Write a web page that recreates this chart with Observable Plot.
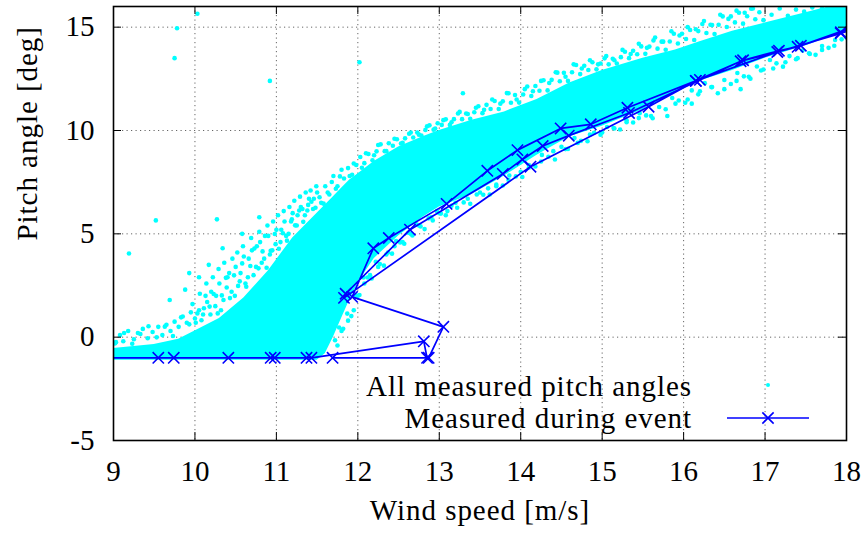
<!DOCTYPE html>
<html>
<head>
<meta charset="utf-8">
<script src="https://cdn.jsdelivr.net/npm/d3@7"></script>
<script src="https://cdn.jsdelivr.net/npm/@observablehq/plot@0.6"></script>
<style>
  html, body { margin: 0; padding: 0; background: white; }
  #wrap { position: relative; width: 861px; height: 538px; }
  .legtxt { position: absolute; left: 0; width: 692px; text-align: right; line-height: 32px; color: black; white-space: nowrap; }
  #legsym { position: absolute; left: 722px; top: 369px; }
</style>
</head>
<body>
<div id="wrap">
  <div class="legtxt" id="leg1" style="top:370px"></div>
  <div class="legtxt" id="leg2" style="top:402px"></div>
  <svg id="legsym" width="92" height="64"></svg>
</div>
<script>
// ---- axis ticks ----
const xTicks = [9, 10, 11, 12, 13, 14, 15, 16, 17, 18];
const yTicks = [-5, 0, 5, 10, 15];
const xGrid = [10, 11, 12, 13, 14, 15, 16, 17];
const yGrid = [0, 5, 10, 15];

// ---- dense core of the measured cloud (wind speed, lower pitch, upper pitch) ----
const coreWind = [9.0, 9.5, 9.8, 10.0, 10.3, 10.6, 10.9, 11.2, 11.5, 11.6, 11.7, 11.8, 11.9, 12.0, 12.1, 12.2, 12.5, 12.8, 13.0, 13.4, 13.8, 14.2, 14.6, 15.0, 15.5, 15.9, 16.2, 16.6, 17.0, 17.5, 18.0];
const coreLow  = [-1.12, -1.12, -1.12, -1.12, -1.12, -1.12, -1.12, -1.12, -1.12, -0.8, 0.0, 0.9, 1.8, 2.6, 3.2, 3.8, 4.9, 5.8, 6.3, 6.9, 7.8, 8.8, 9.7, 10.2, 11.0, 11.8, 12.4, 12.9, 13.5, 14.1, 14.8];
const coreHigh = [-0.55, -0.35, -0.1, 0.3, 0.9, 1.9, 3.2, 4.8, 6.0, 6.4, 6.8, 7.2, 7.6, 7.9, 8.2, 8.5, 9.2, 9.7, 10.0, 10.5, 10.9, 11.5, 12.3, 12.9, 13.5, 13.9, 14.3, 14.8, 15.2, 15.7, 16.2];

// ---- scattered measured points above the dense core ----
const upperPts = [
  [9.02,-0.3],[9.08,0.1],[9.12,-0.2],[9.18,0.3],[9.25,-0.1],[9.3,0.2],[9.36,0.4],[9.42,-0.05],[9.48,0.25],[9.55,0.5],
  [9.6,0.1],[9.65,0.6],[9.7,0.3],[9.75,0.75],[9.8,0.5],[9.85,1.0],[9.9,0.7],[9.95,1.2],[10.0,0.9],[10.05,1.3],
  [10.1,1.1],[10.15,1.7],[10.2,2.2],[10.25,1.5],[10.3,2.6],[10.35,1.8],[10.4,2.9],[10.45,2.2],[10.5,3.4],[10.55,2.7],
  [10.6,3.9],[10.65,2.9],[10.7,4.2],[10.75,3.4],[10.8,4.6],[10.85,3.8],[10.9,4.9],[10.95,4.2],[11.0,5.2],[11.05,4.6],
  [11.1,5.6],[11.15,5.0],[11.2,6.0],[11.25,5.4],[11.3,6.3],[11.35,5.9],[11.4,6.7],[11.45,6.2],[11.5,7.0],[11.55,6.5],
  [11.6,7.3],[11.65,6.9],[11.7,7.8],[11.75,7.3],[11.8,8.1],[11.9,7.8],[11.95,8.4],[12.05,8.2],[12.1,8.9],[12.2,8.8],
  [12.25,9.3],[12.35,9.0],[12.45,9.6],[12.55,9.4],[12.65,9.9],[12.75,9.8],[12.85,10.2],[12.95,10.1],[13.05,10.5],[13.15,10.4],
  [13.25,10.9],[13.35,10.8],[13.45,11.1],[13.55,11.0],[13.65,11.5],[13.75,11.3],[13.85,11.8],[13.95,11.5],[14.05,12.0],[14.15,11.9],
  [14.25,12.4],[14.35,12.3],[14.45,12.8],[14.55,12.6],[14.65,13.2],[14.75,13.0],[14.85,13.4],[14.95,13.2],[15.05,13.6],[15.15,13.4],
  [15.25,13.9],[15.35,13.7],[15.45,14.2],[15.55,14.0],[15.65,14.5],[15.75,14.3],[15.85,14.8],[15.95,14.6],[16.05,15.0],[16.15,14.9],
  [16.25,15.3],[16.35,15.1],[16.45,15.6],[16.55,15.4],[16.65,15.8],[16.75,15.7],[16.85,15.9]
];
const upperPts2 = [
  [9.03,-0.24],[9.13,0.2],[9.23,-0.32],[9.33,0.15],[9.43,0.53],[9.53,-0.01],[9.63,0.51],[9.73,0.06],[9.83,0.96],[9.93,0.62],
  [10.03,1.15],[10.08,0.82],[10.13,2.0],[10.18,1.48],[10.23,2.09],[10.28,1.15],[10.33,2.02],[10.38,2.87],[10.43,1.89],[10.48,2.99],
  [10.53,2.48],[10.58,3.57],[10.63,2.44],[10.68,3.44],[10.73,4.29],[10.78,3.33],[10.83,4.15],[10.88,3.36],[10.93,4.18],[10.98,4.99],
  [11.03,4.28],[11.08,5.03],[11.13,4.67],[11.18,5.6],[11.23,5.41],[11.28,6.13],[11.33,5.58],[11.38,6.13],[11.43,6.55],[11.48,6.26],
  [11.53,6.77],[11.58,6.46],[11.63,7.0],[11.68,7.51],[11.73,7.18],[11.78,7.78],[11.83,7.68],[11.88,8.18],[11.93,7.86],[11.98,8.33],
  [12.03,8.72],[12.08,8.42],[12.13,8.86],[12.18,8.56],[12.23,8.99],[12.28,9.33],[12.33,9.0],[12.38,9.38],[12.43,9.26],[12.48,9.58],
  [12.53,9.37],[12.58,9.62],[12.63,9.84],[12.68,9.66],[12.73,9.9],[12.78,9.76],[12.83,10.03],[12.88,10.25],[12.93,10.04],[12.98,10.35],
  [13.03,10.27],[13.08,10.54],[13.13,10.27],[13.18,10.55],[13.23,10.82],[13.28,10.55],[13.33,10.82],[13.38,10.57],[13.43,10.88],[13.48,11.17],
  [13.53,10.84],[13.58,11.24],[13.63,11.04],[13.68,11.43],[13.73,11.04],[13.78,11.41],[13.83,11.81],[13.88,11.34],[13.93,11.72],[13.98,11.35],
  [14.03,11.74],[14.08,12.13],[14.13,11.67],[14.18,12.15],[14.23,11.92],[14.28,12.43],[14.33,11.94],[14.38,12.45],[14.43,12.82],[14.48,12.38],
  [14.53,12.79],[14.58,12.4],[14.63,12.82],[14.68,13.17],[14.73,12.73],[14.78,13.13],[14.83,12.93],[14.88,13.3],[14.93,12.96],[14.98,13.24],
  [15.03,13.49],[15.08,13.2],[15.13,13.47],[15.18,13.24],[15.23,13.55],[15.28,13.81],[15.33,13.5],[15.38,13.86],[15.43,13.69],[15.48,14.07],
  [15.53,13.71],[15.58,14.06],[15.63,14.36],[15.68,13.96],[15.73,14.3],[15.78,13.91],[15.83,14.31],[15.88,14.68],[15.93,14.21],[15.98,14.68],
  [16.03,14.43],[16.08,14.86],[16.13,14.38],[16.18,14.81],[16.23,15.15],[16.28,14.72],[16.33,15.12],[16.38,14.67],[16.43,15.12],[16.48,15.52],
  [16.53,15.01],[16.58,15.52],[16.63,15.23],[16.68,15.7],[16.73,15.17],[16.78,15.53],[16.83,15.89],[16.88,15.38],[16.93,15.72],[16.98,15.34],
  [17.08,15.6],[17.18,15.9],[17.28,15.55],[17.38,15.85],[17.48,15.75],[17.58,15.95],[17.7,15.9],[17.85,15.95]
];
// sparse upper part of the rising section (10 – 11.5 m/s)
const upperPts3 = [
  [9.97,1.6],[10.01,0.7],[10.06,2.1],[10.11,1.4],[10.14,2.6],[10.19,1.1],[10.22,2.9],[10.26,2.0],[10.29,3.3],[10.32,1.3],
  [10.36,3.6],[10.39,2.4],[10.42,3.1],[10.46,3.8],[10.49,2.0],[10.52,4.1],[10.56,3.1],[10.59,4.4],[10.62,2.6],[10.66,3.8],
  [10.69,4.8],[10.72,3.0],[10.76,4.4],[10.79,5.1],[10.82,3.6],[10.86,4.9],[10.89,5.4],[10.92,4.0],[10.96,5.6],[10.99,4.5],
  [11.02,5.9],[11.06,5.2],[11.09,6.1],[11.12,4.9],[11.16,6.3],[11.19,5.7],[11.22,6.6],[11.26,5.9],[11.29,6.8],[11.32,6.2],
  [11.36,7.0],[11.39,6.4],[11.42,7.1],[11.46,6.7],[11.49,7.3],
  [9.88,2.3],[10.05,2.9],[10.17,3.5],[10.34,4.3],[10.58,5.0]
];

// ---- scattered measured points below the dense core ----
const lowerPts = [
  [11.75,-0.4],[11.8,0.3],[11.88,0.8],[11.95,1.3],[12.0,2.0],[12.08,2.6],[12.15,3.0],[12.25,3.4],[12.35,4.0],[12.45,4.4],
  [12.55,4.6],[12.65,5.0],[12.75,5.4],[12.9,5.8],[13.0,6.0],[13.1,6.1],[13.2,6.5],[13.35,6.7],[13.5,7.0],[13.6,7.2],
  [13.7,7.3],[13.85,7.6],[14.0,8.0],[14.1,8.2],[14.25,8.5],[14.4,9.0],[14.55,9.1],[14.7,9.4],[14.85,9.8],[15.0,9.9],
  [15.15,10.1],[15.3,10.4],[15.45,10.6],[15.6,10.7],[15.8,10.7],[15.9,11.3],[16.05,11.5],[16.1,11.3],[16.2,11.9],[16.35,12.1],
  [16.5,12.0],[16.65,12.4],[16.7,12.0],[16.8,12.6],[16.95,12.9],[17.1,13.0],[17.25,13.3],[17.4,13.5],[17.55,13.7],[17.7,13.9],
  [17.85,14.1],[18.0,14.5]
];
const lowerPts2 = [
  [11.72,-0.15],[11.77,0.47],[11.82,0.41],[11.87,1.14],[11.92,1.02],[11.97,2.02],[12.02,2.04],[12.07,2.89],[12.12,2.89],[12.17,2.84],
  [12.22,3.65],[12.27,3.54],[12.32,3.46],[12.37,4.1],[12.42,4.04],[12.47,4.65],[12.52,4.58],[12.57,4.52],[12.62,5.05],[12.67,4.92],
  [12.72,5.46],[12.77,5.36],[12.82,5.23],[12.87,5.75],[12.92,5.65],[12.97,6.1],[13.02,5.98],[13.08,5.9],[13.15,6.36],[13.22,6.26],
  [13.3,6.52],[13.38,6.45],[13.46,6.9],[13.54,6.89],[13.62,6.9],[13.7,7.38],[13.78,7.34],[13.86,7.82],[13.94,7.78],[14.02,7.75],
  [14.1,8.33],[14.18,8.26],[14.26,8.82],[14.34,8.73],[14.42,8.6],[14.5,9.21],[14.58,9.11],[14.66,9.64],[14.74,9.5],[14.82,9.48],
  [14.9,9.89],[14.98,9.8],[15.06,10.17],[15.14,10.12],[15.22,10.05],[15.3,10.49],[15.38,10.39],[15.46,10.84],[15.54,10.73],[15.62,10.59],
  [15.7,11.14],[15.78,11.03],[15.86,11.57],[15.94,11.45],[16.02,11.34],[16.1,11.94],[16.18,11.75],[16.26,12.29],[16.34,12.1],[16.42,11.8],
  [16.5,12.44],[16.58,12.25],[16.66,12.78],[16.74,12.62],[16.82,12.51],[16.9,13.1],[16.98,12.95],[17.06,13.41],[17.14,13.25],[17.22,13.09],
  [17.3,13.6],[17.38,13.45],[17.46,13.87],[17.54,13.74],[17.62,13.66],[17.7,14.09],[17.78,14.0],[17.86,14.38],[17.94,14.41]
];

// ---- isolated outliers ----
const outlierPts = [
  [10.03,15.65],[9.78,14.95],[9.75,13.5],[10.92,12.4],[12.02,13.3],[13.29,11.8],
  [9.52,5.65],[9.19,4.05],[10.27,5.7],[10.79,5.8],[9.93,3.1],[9.69,1.8]
];

// ---- pitch angle measured during the event (time order) ----
const eventWind  = [8.8, 9.55, 9.74, 10.41, 10.93, 10.98, 11.37, 11.43, 12.81, 12.85, 11.69, 12.87, 13.05, 11.93, 12.19, 12.38, 13.09, 13.59, 13.96, 14.49, 14.86, 15.31, 16.15, 16.73, 17.17, 17.44, 17.93, 18.3, 17.4, 16.7, 16.2, 15.33, 14.59, 14.27, 14.02, 13.78, 12.64, 11.85, 11.83, 14.12, 15.57, 16.15, 17.15, 17.93, 18.3];
const eventPitch = [-1, -1, -1, -1, -1, -1, -1, -1, -0.2, -1, -1, -1, 0.5, 1.95, 4.3, 4.8, 6.45, 8.05, 9.05, 10.1, 10.3, 11.1, 12.4, 13.4, 13.86, 14.1, 14.75, 15.3, 14.05, 13.35, 12.45, 10.85, 9.75, 9.25, 8.6, 7.9, 5.2, 2.1, 1.9, 8.25, 11.15, 12.4, 13.8, 14.7, 15.2];

const labels = { x: "Wind speed [m/s]", y: "Pitch angle [deg]",
  s1: "All measured pitch angles", s2: "Measured during event" };

const cyan = "#00ffff";
const blue = "#0000ff";

// ---- font: serif, sized so that the legend text spans ~326 px like the reference ----
const FAMILY = "'Liberation Serif', 'DejaVu Serif', 'Times New Roman', serif";
const ctx = document.createElement("canvas").getContext("2d");
ctx.font = `100px ${FAMILY}`;
const w100 = ctx.measureText(labels.s1).width;
const FS = Math.min(29, Math.round(100 * 326 / w100 * 10) / 10);
const LS = Math.max(0, (326 - w100 * FS / 100) / labels.s1.length);

const core = coreWind.map((w, i) => ({ w, lo: coreLow[i], hi: coreHigh[i] }));
const pts = [...upperPts, ...upperPts2, ...upperPts3, ...lowerPts, ...lowerPts2, ...outlierPts].map(([w, p]) => ({ w, p }));
const event = eventWind.map((w, i) => ({ w, p: eventPitch[i] }));

const W = 861, H = 538, mL = 113, mR = 15, mT = 6, mB = 98;
const innerW = W - mL - mR, innerH = H - mT - mB;
const gridStyle = { stroke: "#666", strokeOpacity: 1, strokeWidth: 1, strokeDasharray: "1.2,3.3" };
const fmt = d => String(d);

const chart = Plot.plot({
  width: W, height: H,
  marginLeft: mL, marginRight: mR, marginTop: mT, marginBottom: mB,
  style: { fontFamily: FAMILY, fontSize: FS + "px", background: "white", color: "black" },
  x: { domain: [9, 18] },
  y: { domain: [-5, 16] },
  marks: [
    Plot.ruleX(xGrid, { x: d => d, ...gridStyle }),
    Plot.ruleY(yGrid, { y: d => d, ...gridStyle }),
    Plot.areaY(core, { x: "w", y1: "lo", y2: "hi", fill: cyan, clip: true, curve: "linear" }),
    Plot.dot(pts, { x: "w", y: "p", r: 2.3, fill: cyan, stroke: "none", clip: true }),
    Plot.line(event, { x: "w", y: "p", stroke: blue, strokeWidth: 1.7, clip: true, curve: "linear" }),
    Plot.dot(event, { x: "w", y: "p", symbol: "times", r: 5.2, stroke: blue, strokeWidth: 1.6, clip: true }),
    Plot.tickX(xTicks, { x: d => d, insetTop: innerH - 8, stroke: "black", strokeWidth: 1 }),
    Plot.tickX(xTicks, { x: d => d, insetBottom: innerH - 8, stroke: "black", strokeWidth: 1 }),
    Plot.tickY(yTicks, { y: d => d, insetRight: innerW - 8, stroke: "black", strokeWidth: 1 }),
    Plot.tickY(yTicks, { y: d => d, insetLeft: innerW - 8, stroke: "black", strokeWidth: 1 }),
    Plot.frame({ stroke: "black", strokeWidth: 1.6 }),
    Plot.axisX({ ticks: xTicks, tickSize: 0, tickPadding: 20, tickFormat: fmt, label: null, fontSize: FS }),
    Plot.axisY({ ticks: yTicks, tickSize: 0, tickPadding: 19, tickFormat: fmt, label: null, fontSize: FS }),
    Plot.text([labels.x], { frameAnchor: "bottom", dy: 79, fontSize: FS, text: d => d, fill: "black" }),
    Plot.text([labels.y], { frameAnchor: "left", rotate: -90, dx: -86, dy: 17, fontSize: FS, text: d => d, fill: "black" })
  ]
});

const wrap = document.getElementById("wrap");
wrap.insertBefore(chart, wrap.firstChild);
chart.style.position = "absolute";
chart.style.left = "0px";
chart.style.top = "0px";
chart.querySelectorAll("text").forEach(t => {
  if (t.textContent.length > 3) t.setAttribute("letter-spacing", LS.toFixed(2));
});

for (const [id, txt] of [["leg1", labels.s1], ["leg2", labels.s2]]) {
  const el = document.getElementById(id);
  el.textContent = txt;
  el.style.fontFamily = FAMILY;
  el.style.fontSize = FS + "px";
  el.style.letterSpacing = LS.toFixed(2) + "px";
}

// legend samples
const leg = d3.select("#legsym");
leg.append("circle").attr("cx", 46).attr("cy", 16).attr("r", 2).attr("fill", cyan);
leg.append("line").attr("x1", 5).attr("x2", 87).attr("y1", 49).attr("y2", 49).attr("stroke", blue).attr("stroke-width", 1.6);
leg.append("path").attr("d", d3.symbol(d3.symbolTimes, Math.PI * 5.2 * 5.2)()).attr("transform", "translate(46,49)")
  .attr("fill", "none").attr("stroke", blue).attr("stroke-width", 1.6);
</script>
</body>
</html>
